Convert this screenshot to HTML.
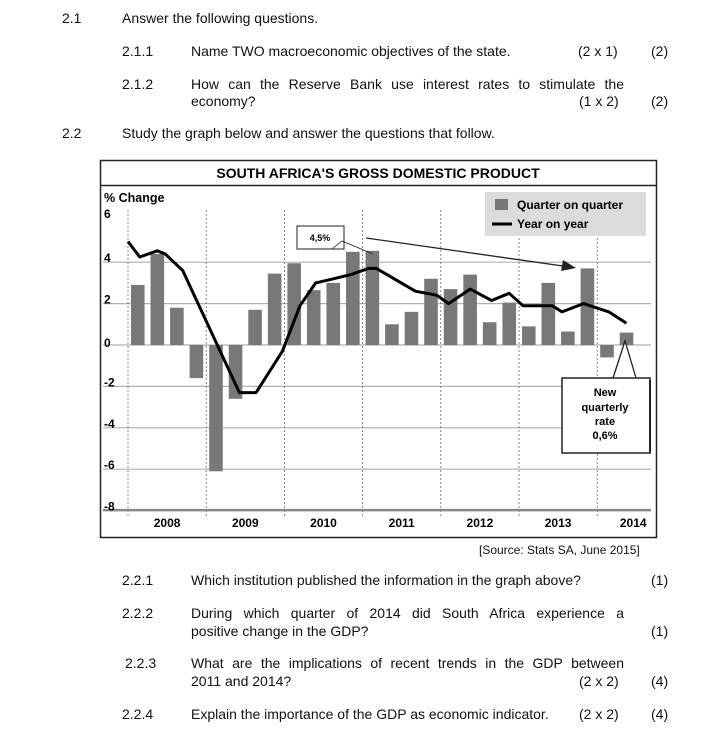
<!DOCTYPE html>
<html><head><meta charset="utf-8"><style>
body{margin:0;width:720px;height:744px;background:#fff;position:relative;overflow:hidden;font-family:"Liberation Sans",Arial,sans-serif;color:#111}
.t{position:absolute;font-size:14px;white-space:nowrap;letter-spacing:0px;line-height:16px}
.j{width:433px;text-align:justify;text-align-last:justify;white-space:normal}
</style></head><body>
<div class="t" style="left:62px;top:10px">2.1</div>
<div class="t" style="left:122px;top:10px">Answer the following questions.</div>
<div class="t" style="left:122px;top:43px">2.1.1</div>
<div class="t" style="left:191px;top:43px">Name TWO macroeconomic objectives of the state.</div>
<div class="t" style="left:578px;top:43px">(2 x 1)</div>
<div class="t" style="left:651px;top:43px">(2)</div>
<div class="t" style="left:122px;top:76px">2.1.2</div>
<div class="t j" style="left:191px;top:76px">How can the Reserve Bank use interest rates to stimulate the</div>
<div class="t" style="left:191px;top:93px">economy?</div>
<div class="t" style="left:579px;top:93px">(1 x 2)</div>
<div class="t" style="left:651px;top:93px">(2)</div>
<div class="t" style="left:62px;top:125px">2.2</div>
<div class="t" style="left:122px;top:125px">Study the graph below and answer the questions that follow.</div>

<svg style="position:absolute;left:0;top:0" width="720" height="744">
<rect x="100.5" y="160.5" width="556" height="377" fill="#fff" stroke="#222" stroke-width="1.5"/>
<line x1="100" y1="185.5" x2="657" y2="185.5" stroke="#222" stroke-width="1.5"/>
<text x="378" y="178" text-anchor="middle" font-size="14" font-weight="bold" font-family="Liberation Sans,Arial,sans-serif">SOUTH AFRICA'S GROSS DOMESTIC PRODUCT</text>
<g id="grid"></g><g id="bars"></g><g id="line"></g><g id="labels" font-family="Liberation Sans,Arial,sans-serif" font-weight="bold" font-size="12"></g>
<text x="104" y="202" font-size="12.5" font-weight="bold" font-family="Liberation Sans,Arial,sans-serif">% Change</text>
<g>
<rect x="485" y="192" width="161" height="44" fill="#dcdcdc"/>
<rect x="495" y="199" width="13" height="11" fill="#777"/>
<text x="517" y="209" font-size="12" font-weight="bold" font-family="Liberation Sans,Arial,sans-serif">Quarter on quarter</text>
<line x1="492" y1="224" x2="512" y2="224" stroke="#000" stroke-width="3"/>
<text x="517" y="228" font-size="12" font-weight="bold" font-family="Liberation Sans,Arial,sans-serif">Year on year</text>
</g>
<g>
<rect x="297" y="226" width="47" height="23" fill="#fff" stroke="#222"/>
<text x="320" y="241" text-anchor="middle" font-size="9" font-weight="bold" font-family="Liberation Sans,Arial,sans-serif">4,5%</text>
<polyline points="332,249 342,241 373,254" fill="none" stroke="#222" stroke-width="0.8"/>
<line x1="366" y1="238" x2="570" y2="267" stroke="#222" stroke-width="1.3"/>
<polygon points="576,268 563,260 561,271" fill="#222"/>
</g>
<g>
<polyline points="613,378 625,341 636,378" fill="#fff" stroke="#222" stroke-width="1.3"/>
<rect x="562" y="378" width="88" height="75" fill="#fff" stroke="#222" stroke-width="1.5"/>
<line x1="650" y1="380" x2="650" y2="453" stroke="#222" stroke-width="2"/>
<g font-size="11" font-weight="bold" font-family="Liberation Sans,Arial,sans-serif" text-anchor="middle">
<text x="605" y="396">New</text><text x="605" y="411">quarterly</text><text x="605" y="425">rate</text><text x="605" y="439">0,6%</text></g>
</g>
</svg>

<div class="t" style="left:479px;top:542px;font-size:12px">[Source: Stats SA, June 2015]</div>

<div class="t" style="left:122px;top:572px">2.2.1</div>
<div class="t" style="left:191px;top:572px">Which institution published the information in the graph above?</div>
<div class="t" style="left:651px;top:572px">(1)</div>
<div class="t" style="left:122px;top:605px">2.2.2</div>
<div class="t j" style="left:191px;top:605px">During which quarter of 2014 did South Africa experience a</div>
<div class="t" style="left:191px;top:623px">positive change in the GDP?</div>
<div class="t" style="left:651px;top:623px">(1)</div>
<div class="t" style="left:125px;top:655px">2.2.3</div>
<div class="t j" style="left:191px;top:655px">What are the implications of recent trends in the GDP between</div>
<div class="t" style="left:191px;top:673px">2011 and 2014?</div>
<div class="t" style="left:579px;top:673px">(2 x 2)</div>
<div class="t" style="left:651px;top:673px">(4)</div>
<div class="t" style="left:122px;top:706px">2.2.4</div>
<div class="t" style="left:191px;top:706px">Explain the importance of the GDP as economic indicator.</div>
<div class="t" style="left:579px;top:706px">(2 x 2)</div>
<div class="t" style="left:651px;top:706px">(4)</div>

<script>
const years = ["2008","2009","2010","2011","2012","2013","2014"];
const yTicks = [6,4,2,0,-2,-4,-6,-8];
const quarterValues = [2.9,4.4,1.8,-1.6,-6.1,-2.6,1.7,3.45,3.95,2.65,3.0,4.5,4.55,1.0,1.6,3.2,2.7,3.4,1.1,2.05,0.9,3.0,0.65,3.7,-0.6,0.6];
const yoyQuarterIndex = [-0.5,0.1,1.0,1.4,2.3,5.2,6.05,7.4,8.3,9.1,10,10.9,11.8,12.2,14.2,15.3,15.9,17,18.1,19,19.7,21.2,21.7,22.8,24.1,25];
const yoyValues = [5.0,4.25,4.55,4.4,3.6,-2.3,-2.3,-0.3,1.9,3.0,3.2,3.4,3.7,3.7,2.6,2.4,2.0,2.7,2.15,2.5,1.9,1.9,1.6,2.0,1.6,1.05];

const NS="http://www.w3.org/2000/svg";
const x0=128, yearW=78.2, qW=yearW/4;
const xQ=i=>x0+qW*(i+0.5);
const yV=v=>345-v*20.7;
function mk(tag,attrs,parent){const e=document.createElementNS(NS,tag);for(const k in attrs)e.setAttribute(k,attrs[k]);parent.appendChild(e);return e;}
const grid=document.getElementById('grid'),bars=document.getElementById('bars'),line=document.getElementById('line'),labels=document.getElementById('labels');
const plotR=651;
yTicks.forEach(t=>{
  if(t>-8&&t<6){const g=mk('line',{x1:103,x2:plotR,y1:yV(t),y2:yV(t),stroke:'#b0b0b0','stroke-width':1.2},grid);
  
  }
  const tx=mk('text',{x:104,y:yV(t)+(t===0?2:0)+(t===6?-3:0)},labels);
  tx.textContent=t;
  
  
});
years.forEach((y,i)=>{
  const xl=x0+i*yearW;
  const d=mk('line',{x1:xl,x2:xl,y1:210,y2:517,stroke:'#555','stroke-width':0.7,'stroke-dasharray':'2,2'},grid);
  
  
  const tx=mk('text',{x:i===6?x0+i*yearW+36:xl+yearW/2,y:527,'text-anchor':'middle'},labels);
  tx.textContent=y;
  
  
});
const ax=mk('line',{x1:103,x2:plotR,y1:yV(-8)-0.5,y2:yV(-8)-0.5,stroke:'#888','stroke-width':2.5},grid);


quarterValues.forEach((v,i)=>{
  const y1=yV(Math.max(v,0)),y2=yV(Math.min(v,0));
  const r=mk('rect',{x:xQ(i)-6.8,y:y1,width:13.6,height:y2-y1,fill:'#787878'},bars);
  
  
});
const pts=yoyValues.map((v,i)=>xQ(yoyQuarterIndex[i]).toFixed(1)+','+yV(v).toFixed(1)).join(' ');
const pl=mk('polyline',{points:pts,fill:'none',stroke:'#000','stroke-width':3,'stroke-linejoin':'round'},line);


</script>
</body></html>
